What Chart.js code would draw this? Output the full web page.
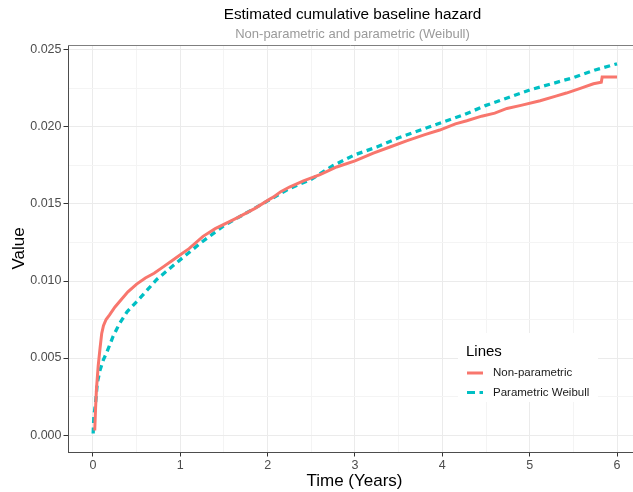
<!DOCTYPE html>
<html>
<head>
<meta charset="utf-8">
<script src="https://cdn.jsdelivr.net/npm/chart.js@4/dist/chart.umd.min.js"></script>
<style>
  html, body { margin: 0; padding: 0; background: #ffffff; }
  #wrap { width: 633px; height: 492px; position: relative; }
</style>
</head>
<body>
<div id="wrap"><canvas id="idCanv_hazard"></canvas></div>
<script>
// Non-parametric (step) estimate
const npTime = [0.02, 0.03, 0.04, 0.06, 0.08, 0.1, 0.12, 0.15, 0.19, 0.25, 0.31, 0.4, 0.5, 0.6, 0.7, 0.8, 0.9, 1.0, 1.1, 1.26, 1.4, 1.65, 1.85, 2.02, 2.08, 2.15, 2.25, 2.41, 2.6, 2.79, 3.0, 3.21, 3.4, 3.59, 3.8, 3.97, 4.15, 4.28, 4.45, 4.6, 4.74, 4.9, 5.12, 5.3, 5.42, 5.58, 5.73, 5.82, 5.83, 6.0];
const npHazard = [0.0003, 0.0018, 0.003, 0.0045, 0.0056, 0.0066, 0.0071, 0.0075, 0.0078, 0.0083, 0.0087, 0.0093, 0.0098, 0.0102, 0.0105, 0.0109, 0.0113, 0.0117, 0.0121, 0.0129, 0.0134, 0.0141, 0.0147, 0.0153, 0.0155, 0.0158, 0.0161, 0.0165, 0.0169, 0.0174, 0.0178, 0.0183, 0.0187, 0.0191, 0.0195, 0.0198, 0.0202, 0.0204, 0.0207, 0.0209, 0.0212, 0.0214, 0.0217, 0.022, 0.0222, 0.0225, 0.0228, 0.0229, 0.02325, 0.02325];

// Parametric Weibull fit
const wbTime = [0.002, 0.01, 0.03, 0.05, 0.08, 0.12, 0.16, 0.23, 0.3, 0.39, 0.54, 0.73, 0.96, 1.24, 1.5, 1.75, 2.0, 2.25, 2.5, 2.75, 3.0, 3.25, 3.5, 3.75, 4.0, 4.25, 4.5, 4.75, 5.0, 5.25, 5.5, 5.75, 6.0];
const wbHazard = [0.0001, 0.0012, 0.0021, 0.0034, 0.0042, 0.0049, 0.0054, 0.0064, 0.0072, 0.008, 0.0089, 0.0101, 0.0112, 0.0125, 0.0136, 0.0144, 0.0152, 0.016, 0.0166, 0.0175, 0.0182, 0.0187, 0.0193, 0.0198, 0.0203, 0.0208, 0.0214, 0.0219, 0.0224, 0.0228, 0.0232, 0.0237, 0.0241];

const xTicks = [0, 0.5, 1, 1.5, 2, 2.5, 3, 3.5, 4, 4.5, 5, 5.5, 6];
const yTicks = [0, 0.0025, 0.005, 0.0075, 0.01, 0.0125, 0.015, 0.0175, 0.02, 0.0225, 0.025];

const seriesNames = ["Non-parametric", "Parametric Weibull"];
const seriesColors = ["#F8766D", "#00BFC4"];

const fontFam = "'Liberation Sans', Arial, sans-serif";

function isMajor(v, step) {
  return Math.abs(v / step - Math.round(v / step)) < 1e-6;
}

const hazardDecor = {
  id: "hazardDecor",
  afterDraw(chart) {
    const ctx = chart.ctx;
    const area = chart.chartArea;
    const midX = (area.left + area.right) / 2;
    ctx.save();
    // top border line
    ctx.strokeStyle = "#7f7f7f";
    ctx.lineWidth = 1;
    ctx.beginPath();
    ctx.moveTo(area.left, area.top + 0.5);
    ctx.lineTo(area.right, area.top + 0.5);
    ctx.stroke();
    // titles
    ctx.textAlign = "center";
    ctx.textBaseline = "alphabetic";
    ctx.fillStyle = "#000000";
    ctx.font = "15.3px " + fontFam;
    ctx.fillText("Estimated cumulative baseline hazard", midX + 2, 18.5);
    ctx.fillStyle = "#9a9a9a";
    ctx.font = "13px " + fontFam;
    ctx.fillText("Non-parametric and parametric (Weibull)", midX + 2, 37.5);
    // axis titles
    ctx.fillStyle = "#000000";
    ctx.font = "17px " + fontFam;
    ctx.textBaseline = "middle";
    ctx.fillText("Time (Years)", midX + 4, 481);
    ctx.save();
    ctx.translate(19, (area.top + area.bottom) / 2);
    ctx.rotate(-Math.PI / 2);
    ctx.fillText("Value", 0, 0);
    ctx.restore();
    // legend inside the panel
    ctx.fillStyle = "#ffffff";
    ctx.fillRect(458, 333, 140, 69);
    ctx.textAlign = "left";
    ctx.textBaseline = "alphabetic";
    ctx.fillStyle = "#000000";
    ctx.font = "15px " + fontFam;
    ctx.fillText("Lines", 466, 356);
    const rowsY = [373, 392.5];
    seriesNames.forEach((name, i) => {
      ctx.strokeStyle = seriesColors[i];
      ctx.lineWidth = 3;
      ctx.setLineDash(i === 1 ? [8, 4.5] : []);
      ctx.beginPath();
      ctx.moveTo(467, rowsY[i]);
      ctx.lineTo(483, rowsY[i]);
      ctx.stroke();
      ctx.setLineDash([]);
      ctx.fillStyle = "#1a1a1a";
      ctx.font = "11.5px " + fontFam;
      ctx.textBaseline = "middle";
      ctx.fillText(name, 493, rowsY[i]);
    });
    ctx.restore();
  },
};

const hazardChart = {
  config: {
    type: "line",
    data: {
      datasets: [
        {
          label: seriesNames[0],
          data: npTime.map((t, i) => ({ x: t, y: npHazard[i] })),
          borderColor: seriesColors[0],
          borderWidth: 3,
          pointRadius: 0,
          tension: 0,
        },
        {
          label: seriesNames[1],
          data: wbTime.map((t, i) => ({ x: t, y: wbHazard[i] })),
          borderColor: seriesColors[1],
          borderWidth: 3.3,
          borderDash: [6, 4.5],
          pointRadius: 0,
          tension: 0,
        },
      ],
    },
    options: {
      responsive: false,
      animation: false,
      layout: { padding: { top: 45, left: 0, right: 0, bottom: 0 } },
      plugins: {
        legend: { display: false },
        title: { display: false },
        tooltip: { enabled: false },
      },
      scales: {
        x: {
          type: "linear",
          min: -0.286,
          max: 6.183,
          afterBuildTicks: (axis) => {
            axis.ticks = xTicks.map((v) => ({ value: v }));
          },
          afterFit: (axis) => {
            axis.height = 40;
          },
          ticks: {
            autoSkip: false,
            maxRotation: 0,
            padding: 2,
            color: "#4d4d4d",
            font: { family: fontFam, size: 12.5 },
            callback: (v) => (isMajor(v, 1) ? String(v) : ""),
          },
          grid: {
            color: (c) => (isMajor(c.tick.value, 1) ? "#ebebeb" : "#f4f4f4"),
            tickColor: (c) => (isMajor(c.tick.value, 1) ? "#333333" : "rgba(0,0,0,0)"),
            tickLength: 4.5,
            lineWidth: 1,
          },
          border: { display: true, color: "#4d4d4d", width: 1 },
        },
        y: {
          type: "linear",
          min: -0.0011,
          max: 0.02532,
          afterBuildTicks: (axis) => {
            axis.ticks = yTicks.map((v) => ({ value: v }));
          },
          afterFit: (axis) => {
            axis.width = 68;
          },
          ticks: {
            autoSkip: false,
            padding: 2,
            color: "#4d4d4d",
            font: { family: fontFam, size: 12.5 },
            callback: (v) => (isMajor(v, 0.005) ? v.toFixed(3) : ""),
          },
          grid: {
            color: (c) => (isMajor(c.tick.value, 0.005) ? "#ebebeb" : "#f4f4f4"),
            tickColor: (c) => (isMajor(c.tick.value, 0.005) ? "#333333" : "rgba(0,0,0,0)"),
            tickLength: 4.5,
            lineWidth: 1,
          },
          border: { display: true, color: "#4d4d4d", width: 1 },
        },
      },
    },
    plugins: [hazardDecor],
  },
  canvas: null,
};

const cnv = document.getElementById("idCanv_hazard");
cnv.width = 633;
cnv.height = 492;
hazardChart.canvas = new Chart(cnv, hazardChart.config);
</script>
</body>
</html>
